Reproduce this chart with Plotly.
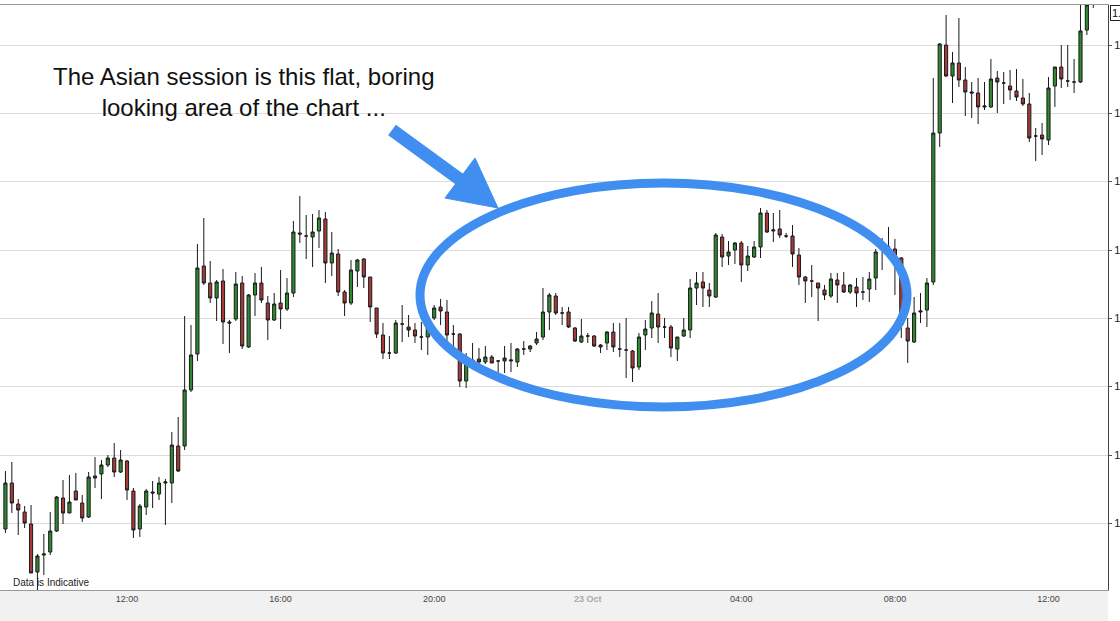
import pandas as pd
import plotly.graph_objects as go

# 10-minute candles, 22 Oct 08:50 -> 23 Oct 13:10 (price in chart points)
opens = [71, 117, 96, 88, 76, 28, 45, 48, 69, 102, 87, 109, 97, 83, 122, 126, 135, 142, 128, 139,
         109, 71, 93, 108, 106, 117, 117, 154, 154, 210, 246, 334, 317, 302, 319, 278, 281, 317, 253, 305,
         317, 297, 280, 297, 291, 307, 367, 364, 363, 369, 381, 337, 346, 308, 297, 329, 341, 323, 292, 265,
         247, 247, 276, 273, 270, 263, 263, 282, 293, 288, 266, 266, 219, 233, 241, 238, 243, 239, 239, 239,
         238, 251, 251, 257, 263, 288, 304, 287, 288, 272, 258, 264, 264, 255, 257, 268, 251, 250, 249, 233,
         265, 272, 286, 273, 273, 251, 264, 270, 312, 318, 310, 303, 363, 344, 350, 357, 335, 343, 353, 387,
         369, 371, 364, 364, 345, 323, 319, 317, 310, 304, 320, 315, 308, 313, 308, 311, 322, 352, 353, 351,
         342, 272, 258, 288, 290, 318, 467, 555, 524, 537, 520, 508, 507, 493, 493, 522, 517, 514, 509, 502,
         496, 464, 465, 460, 514, 533, 519, 518, 518, 570, 596]
highs = [129, 138, 101, 94, 95, 46, 66, 88, 104, 120, 125, 127, 105, 128, 143, 140, 145, 157, 150, 140,
         112, 96, 111, 119, 123, 121, 168, 183, 284, 275, 356, 382, 339, 320, 331, 280, 328, 324, 306, 327,
         333, 304, 307, 330, 322, 379, 404, 385, 386, 390, 388, 368, 351, 310, 340, 341, 342, 323, 292, 277,
         264, 280, 295, 285, 277, 278, 285, 295, 301, 300, 275, 267, 247, 257, 252, 254, 245, 240, 254, 257,
         252, 259, 255, 268, 312, 307, 307, 293, 293, 273, 281, 267, 265, 256, 269, 277, 277, 282, 250, 267,
         280, 299, 307, 282, 275, 263, 282, 321, 328, 328, 317, 367, 366, 359, 358, 359, 354, 359, 392, 390,
         387, 390, 367, 375, 352, 324, 335, 317, 315, 327, 327, 328, 316, 322, 323, 328, 351, 362, 373, 361,
         343, 282, 303, 307, 322, 522, 557, 585, 548, 582, 533, 518, 522, 518, 541, 529, 528, 530, 531, 521,
         507, 472, 477, 523, 533, 555, 555, 541, 595, 600, 605]
lows = [67, 87, 65, 72, 27, 8, 25, 45, 68, 76, 87, 100, 78, 82, 112, 101, 133, 123, 127, 100,
        62, 63, 85, 92, 100, 75, 97, 128, 150, 208, 239, 315, 297, 279, 256, 247, 279, 251, 252, 284,
        297, 260, 279, 271, 289, 303, 357, 341, 333, 352, 317, 324, 304, 284, 295, 313, 312, 278, 262, 241,
        241, 246, 258, 263, 257, 250, 245, 280, 275, 258, 248, 213, 212, 233, 235, 236, 237, 222, 227, 228,
        233, 245, 248, 255, 260, 270, 285, 275, 272, 258, 257, 257, 253, 247, 250, 248, 243, 222, 218, 230,
        250, 262, 257, 262, 243, 239, 263, 262, 295, 293, 293, 302, 333, 335, 336, 318, 329, 342, 342, 367,
        358, 362, 362, 333, 315, 297, 303, 279, 300, 302, 297, 307, 306, 293, 300, 298, 310, 330, 350, 305,
        262, 237, 257, 277, 273, 315, 453, 523, 497, 513, 484, 482, 476, 490, 492, 487, 496, 500, 499, 494,
        458, 439, 445, 455, 493, 512, 513, 507, 517, 565, 592]
closes = [117, 97, 90, 77, 27, 44, 46, 69, 103, 87, 98, 100, 82, 123, 124, 135, 142, 128, 140, 110,
          70, 94, 109, 107, 117, 118, 155, 129, 210, 245, 332, 317, 302, 318, 278, 277, 316, 254, 305, 317,
          300, 280, 296, 291, 307, 368, 366, 364, 368, 382, 337, 347, 308, 297, 330, 340, 323, 293, 266, 247,
          247, 277, 276, 270, 264, 263, 282, 292, 289, 265, 266, 219, 239, 240, 238, 243, 237, 239, 242, 240,
          251, 251, 254, 261, 288, 305, 287, 287, 273, 259, 264, 264, 254, 253, 268, 253, 251, 250, 232, 263,
          271, 287, 273, 273, 252, 263, 270, 312, 317, 312, 304, 365, 343, 348, 357, 335, 344, 353, 387, 368,
          370, 365, 364, 346, 323, 319, 319, 312, 305, 321, 315, 308, 315, 307, 308, 321, 348, 353, 353, 342,
          275, 259, 287, 289, 317, 467, 556, 524, 537, 520, 508, 507, 493, 494, 521, 518, 517, 510, 503, 496,
          462, 464, 461, 512, 533, 521, 519, 518, 569, 595, 598]

times = pd.date_range("2012-10-22 08:50", periods=len(opens), freq="10min")

tick_times = ["2012-10-22 12:00", "2012-10-22 16:00", "2012-10-22 20:00", "2012-10-23 00:00",
              "2012-10-23 04:00", "2012-10-23 08:00", "2012-10-23 12:00"]
tick_labels = ["12:00", "16:00", "20:00", "<span style='color:#aaa'><b>23 Oct</b></span>",
               "04:00", "08:00", "12:00"]
price_ticks = [77, 145, 214, 282, 350, 419, 487, 555]
price_labels = ["1.6170", "1.6180", "1.6190", "1.6200", "1.6210", "1.6220", "1.6230", "1.6240"]

W, H = 1120, 621
L, R, T, B = 0, 12, 5, 31


def px(x):
    return (x - L) / (W - L - R)


def py(y):
    return (H - B - y) / (H - T - B)


fig = go.Figure(go.Candlestick(
    x=times, open=opens, high=highs, low=lows, close=closes,
    increasing=dict(line=dict(color="#1a1a1a", width=1), fillcolor="#2f8a2f"),
    decreasing=dict(line=dict(color="#1a1a1a", width=1), fillcolor="#a83a3a"),
    whiskerwidth=0, showlegend=False, hoverinfo="skip",
))

blue = "#3f8ef0"
shapes = [
    # grey strip under the time axis
    dict(type="rect", xref="paper", yref="paper", x0=0, x1=1, y0=py(621), y1=0,
         fillcolor="#f1f1f1", line=dict(width=0), layer="below"),
    dict(type="circle", xref="paper", yref="paper",
         x0=px(420), x1=px(907), y0=py(407), y1=py(183),
         line=dict(color=blue, width=9)),
    dict(type="line", xref="paper", yref="paper",
         x0=px(392), y0=py(130), x1=px(462), y1=py(181),
         line=dict(color=blue, width=13)),
    dict(type="path", xref="paper", yref="paper",
         path=f"M {px(475)},{py(158)} L {px(498)},{py(208)} L {px(445)},{py(198)} Z",
         fillcolor=blue, line=dict(color=blue, width=1)),
]

annotations = [
    dict(text="The Asian session is this flat, boring<br>looking area of the chart ...",
         xref="paper", yref="paper", x=px(244), y=py(92), xanchor="center", yanchor="middle",
         showarrow=False,
         font=dict(family="Liberation Sans, Arial", size=24, color="#111"), align="center"),
    dict(text="Data is Indicative", xref="paper", yref="paper", x=px(11), y=py(582),
         xanchor="left", yanchor="middle", showarrow=False,
         font=dict(family="Liberation Sans, Arial", size=10, color="#222")),
    dict(text="1.6246", xref="paper", yref="paper", x=1.002, y=py(13), xanchor="left",
         yanchor="middle", showarrow=False, bordercolor="#222", borderwidth=1, bgcolor="white",
         font=dict(family="Liberation Sans, Arial", size=11, color="#111")),
]

fig.update_layout(
    width=W, height=H, margin=dict(l=L, r=R, t=T, b=B),
    paper_bgcolor="white", plot_bgcolor="white",
    shapes=shapes, annotations=annotations,
    xaxis=dict(
        rangeslider=dict(visible=False), type="date",
        range=["2012-10-22 08:41:30", "2012-10-23 13:33"],
        tickvals=tick_times, ticktext=tick_labels, showgrid=False,
        ticks="", tickfont=dict(family="Liberation Sans, Arial", size=9, color="#444"),
        showline=True, linecolor="#999", mirror=True,
    ),
    yaxis=dict(
        range=[10, 595], side="right", tickvals=price_ticks, ticktext=price_labels,
        showgrid=True, gridcolor="#dcdcdc", zeroline=False,
        ticks="outside", ticklen=3, tickcolor="#555",
        tickfont=dict(family="Liberation Sans, Arial", size=11, color="#222"),
        showline=True, linecolor="#444", mirror=True, automargin=False,
    ),
)

fig.write_html("out.html", config={"displayModeBar": False},
               post_script="document.body.style.margin='0';")
